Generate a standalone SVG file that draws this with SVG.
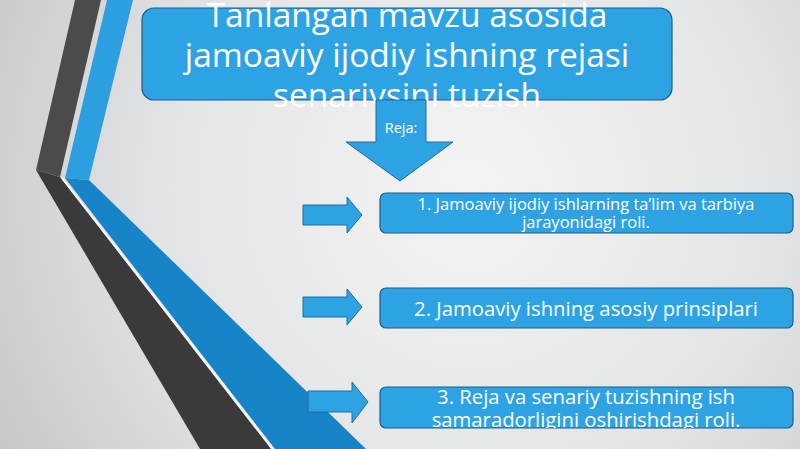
<svg xmlns="http://www.w3.org/2000/svg" width="800" height="449" viewBox="0 0 800 449">
<defs>
<radialGradient id="bg" cx="470" cy="190" r="560" gradientUnits="userSpaceOnUse">
<stop offset="0" stop-color="#f4f4f4"/>
<stop offset="0.55" stop-color="#e3e4e5"/>
<stop offset="1" stop-color="#c2c4c6"/>
</radialGradient>
<clipPath id="titleClip"><rect x="0" y="0" width="800" height="107"/></clipPath>
<clipPath id="c1"><rect x="380" y="193" width="413" height="40"/></clipPath>
<clipPath id="c3"><rect x="380" y="387" width="413" height="41"/></clipPath>
<style>
.box{fill:#2ea3e3;stroke:#1d5e88;stroke-width:1.2}
.arr{fill:#2ea3e3;stroke:#1d6ea3;stroke-width:1}
.t{font-family:"Open Sans","Noto Sans","Liberation Sans",sans-serif;fill:#ffffff;text-anchor:middle}
</style>
</defs>
<rect width="800" height="449" fill="url(#bg)"/>
<g id="decor">
<polygon points="75,0 101,0 60,177 36,170" fill="#4b4b4b"/>
<polygon points="36,170 60,177 271,449 200,449" fill="#3a3a3a"/>
<polygon points="107,0 133,0 89,180 65,178" fill="#2c9fe0"/>
<polygon points="65,178 89,180 366,449 275,449" fill="#1784c7"/>
<polyline points="62,178 273,449" fill="none" stroke="#f4f6f8" stroke-width="2"/>
</g>
<g id="title">
<rect class="box" x="142" y="8" width="530" height="92" rx="12"/>
<g clip-path="url(#titleClip)">
<text class="t" font-size="33.5" x="407" y="27">Tanlangan mavzu asosida</text>
<text class="t" font-size="33.5" x="407" y="67">jamoaviy ijodiy ishning rejasi</text>
<text class="t" font-size="33.5" x="407" y="107">senariysini tuzish</text>
</g>
</g>
<g id="connectors">
<polygon id="down-arrow" class="arr" points="376,100 426,100 426,142 453,142 400,181 346,142 376,142"/>
<text class="t" font-size="14.5" x="401" y="133">Reja:</text>
<polygon class="arr" points="303,205 347,205 347,197 362,215 347,233 347,225 303,225"/>
<polygon class="arr" points="303,297 347,297 347,289 362,307 347,325 347,317 303,317"/>
<polygon class="arr" points="308,391 352,391 352,382 368,402 352,423 352,412 308,412"/>
</g>
<g id="item1">
<rect class="box" x="380" y="193" width="413" height="40" rx="6"/>
<g clip-path="url(#c1)">
<text class="t" font-size="16.5" x="586" y="210">1. Jamoaviy ijodiy ishlarning ta’lim va tarbiya</text>
<text class="t" font-size="16.5" x="586" y="228">jarayonidagi roli.</text>
</g>
</g>
<g id="item2">
<rect class="box" x="380" y="288" width="413" height="40" rx="6"/>
<text class="t" font-size="20.3" x="586" y="316">2. Jamoaviy ishning asosiy prinsiplari</text>
</g>
<g id="item3">
<rect class="box" x="380" y="387" width="413" height="41" rx="6"/>
<g clip-path="url(#c3)">
<text class="t" font-size="20.3" x="586" y="404">3. Reja va senariy tuzishning ish</text>
<text class="t" font-size="20.3" x="586" y="427">samaradorligini oshirishdagi roli.</text>
</g>
</g>
</svg>
